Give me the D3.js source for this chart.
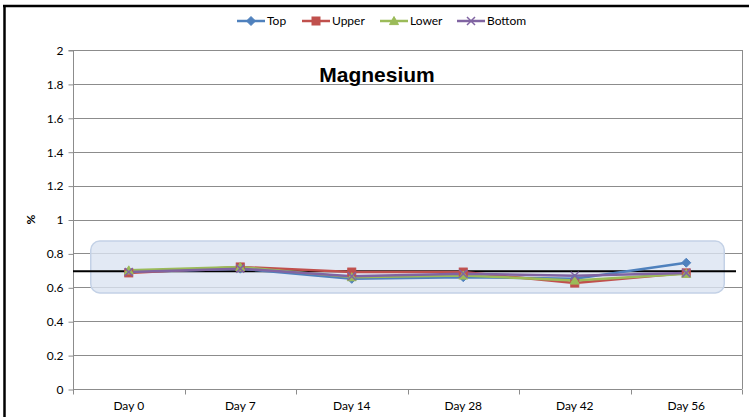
<!DOCTYPE html>
<html><head><meta charset="utf-8">
<script src="https://cdn.jsdelivr.net/npm/d3@7"></script>
<style>
html,body{margin:0;padding:0;background:#fff;}
svg{display:block;}
text{font-family:Lato,"Liberation Sans",sans-serif;}
</style>
</head><body>
<svg id="chart" width="749" height="417"></svg>
<script>
const categories = ["Day 0","Day 7","Day 14","Day 28","Day 42","Day 56"];
const seriesNames = ["Top","Upper","Lower","Bottom"];
const topValues    = [0.69, 0.71, 0.65, 0.66, 0.65, 0.745];
const upperValues  = [0.685,0.72, 0.69, 0.69, 0.625,0.685];
const lowerValues  = [0.70, 0.72, 0.66, 0.67, 0.64, 0.68];
const bottomValues = [0.69, 0.71, 0.665,0.68, 0.668,0.685];
const yTicks = [0,0.2,0.4,0.6,0.8,1,1.2,1.4,1.6,1.8,2];
const referenceValue = 0.7;
const bandRange = [0.567, 0.873];
const titleText = "Magnesium";
const yLabel = "%";

const colors = {Top:"#4F81BD", Upper:"#C0504D", Lower:"#9BBB59", Bottom:"#8064A2"};
const series = [
  {name:"Top", values:topValues},
  {name:"Upper", values:upperValues},
  {name:"Lower", values:lowerValues},
  {name:"Bottom", values:bottomValues}
];
const FONT = 'Lato,"Liberation Sans",sans-serif';

const svg = d3.select("#chart");
const L = 73, R = 742, T = 50, B = 389;
const x = d3.scaleBand().domain(categories).range([L, R]).padding(0);
const xc = d => x(d) + x.bandwidth()/2;
const y = d3.scaleLinear().domain([0, 2]).range([B, T]);

// outer black borders
svg.append("rect").attr("x",0).attr("y",0).attr("width",749).attr("height",417).attr("fill","#fff");
svg.append("line").attr("x1",3).attr("x2",749).attr("y1",6).attr("y2",6).attr("stroke","#000").attr("stroke-width",2.5);
svg.append("line").attr("x1",4.5).attr("x2",4.5).attr("y1",5).attr("y2",417).attr("stroke","#000").attr("stroke-width",2.5);

// gridlines
svg.append("g").selectAll("line").data(yTicks.filter(v=>v>0)).join("line")
  .attr("x1",L).attr("x2",R).attr("y1",d=>Math.round(y(d))+0.5).attr("y2",d=>Math.round(y(d))+0.5)
  .attr("stroke","#8c8c8c").attr("stroke-width",1);

// plot frame right
svg.append("line").attr("x1",R+0.5).attr("x2",R+0.5).attr("y1",T).attr("y2",B).attr("stroke","#8c8c8c");

// y axis
const yAxis = d3.axisLeft(y).tickValues(yTicks).tickSize(5).tickPadding(5).tickFormat(d3.format("~g"));
const gy = svg.append("g").attr("transform",`translate(${L+0.5},0.5)`).call(yAxis);
gy.select(".domain").attr("stroke","#8c8c8c").attr("d",`M-5,${T}H0V${B}`);
gy.selectAll(".tick line").attr("stroke","#8c8c8c");
gy.selectAll("text").attr("font-size",12).attr("fill","#000").style("font-family",FONT);

// x axis
const xAxis = d3.axisBottom(x).tickSize(0).tickPadding(12);
const gx = svg.append("g").attr("transform",`translate(0,${B+0.5})`).call(xAxis);
gx.select(".domain").attr("stroke","#8c8c8c").attr("d",`M${L},0H${R}`);
gx.selectAll("text").attr("font-size",12).attr("fill","#000").style("font-family",FONT);
gx.append("g").selectAll("line").data(categories.map(c=>x(c)).concat([R])).join("line")
  .attr("x1",d=>Math.round(d)+0.5).attr("x2",d=>Math.round(d)+0.5).attr("y1",0).attr("y2",5)
  .attr("stroke","#8c8c8c");

// shaded band
const x0 = xc(categories[0]) - 38, x1 = xc(categories[categories.length-1]) + 38;
svg.append("rect").attr("x",x0).attr("y",y(bandRange[1])).attr("width",x1-x0)
  .attr("height",y(bandRange[0])-y(bandRange[1])).attr("rx",9).attr("ry",9)
  .attr("fill","#dbe4f1").attr("fill-opacity",0.8).attr("stroke","#c3d1e6").attr("stroke-width",1.5);

// reference line
svg.append("line").attr("x1",L).attr("x2",R-6).attr("y1",y(referenceValue)+1).attr("y2",y(referenceValue)+1)
  .attr("stroke","#000").attr("stroke-width",2);

// series lines
const line = d3.line().x((d,i)=>xc(categories[i])).y(d=>y(d));
series.forEach(s=>{
  svg.append("path").datum(s.values).attr("d",line).attr("fill","none")
    .attr("stroke",colors[s.name]).attr("stroke-width",2.5).attr("stroke-linejoin","round");
});

function marker(g, name, cx, cy, sc){
  sc = sc || 1;
  const c = colors[name];
  if(name==="Top"){
    const r=4.5*sc;
    g.append("path").attr("d",`M${cx},${cy-r}L${cx+r},${cy}L${cx},${cy+r}L${cx-r},${cy}Z`).attr("fill",c).attr("stroke",c);
  } else if(name==="Upper"){
    const r=4*sc;
    g.append("rect").attr("x",cx-r).attr("y",cy-r).attr("width",2*r).attr("height",2*r).attr("fill",c).attr("stroke",c);
  } else if(name==="Lower"){
    const r=4.5*sc;
    g.append("path").attr("d",`M${cx},${cy-r}L${cx+r},${cy+r*0.8}L${cx-r},${cy+r*0.8}Z`).attr("fill",c).attr("stroke",c);
  } else {
    const r=4*sc;
    g.append("path").attr("d",`M${cx-r},${cy-r}L${cx+r},${cy+r}M${cx+r},${cy-r}L${cx-r},${cy+r}`).attr("stroke",c).attr("stroke-width",1.5).attr("fill","none");
  }
}
series.forEach(s=>{
  const g = svg.append("g");
  s.values.forEach((v,i)=>marker(g, s.name, xc(categories[i]), y(v)));
});

// title
svg.append("text").attr("x",377).attr("y",82).attr("text-anchor","middle")
  .attr("font-size",21).attr("font-weight","bold")
  .style("font-family",'"Liberation Sans","DejaVu Sans",sans-serif').text(titleText);

// y label
svg.append("text").attr("transform",`translate(35,${y(1)}) rotate(-90)`).attr("text-anchor","middle")
  .attr("font-size",12).attr("font-weight","bold").style("font-family",FONT).text(yLabel);

// legend
const legendX = [237, 302, 380, 457];
const lg = svg.append("g");
series.forEach((s,i)=>{
  const lx = legendX[i], ly = 21;
  lg.append("line").attr("x1",lx).attr("x2",lx+28).attr("y1",ly).attr("y2",ly)
    .attr("stroke",colors[s.name]).attr("stroke-width",2.5);
  marker(lg, s.name, lx+14, ly, 1);
  lg.append("text").attr("x",lx+30).attr("y",ly+4).attr("font-size",12).text(s.name).style("font-family",FONT);
});
</script>
</body></html>
